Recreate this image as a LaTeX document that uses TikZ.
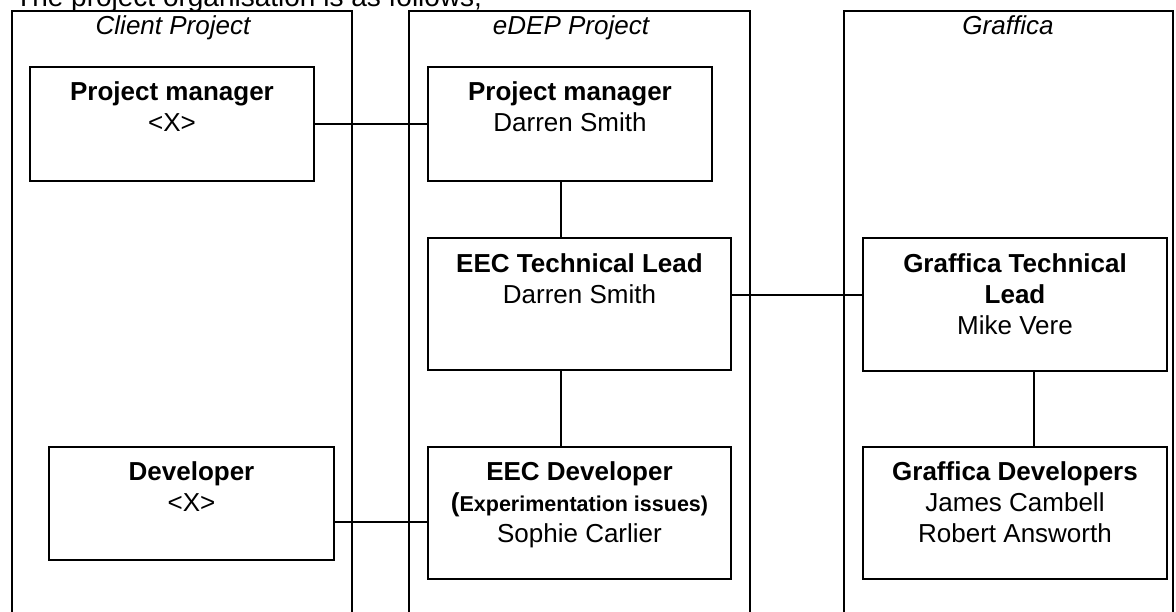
\documentclass[tikz,border=0pt]{standalone}
\usepackage{fontspec}
\setmainfont{Liberation Sans}[Ligatures=CommonOff]
\usetikzlibrary{calc}
\tikzset{
  colbox/.style={draw, line width=1.6pt, fill=white, inner sep=0pt, minimum height=639pt},
  orgbox/.style={draw, line width=1.5pt, fill=white, inner sep=0pt},
  txt/.style={inner sep=0pt, anchor=base, font=\fontsize{26}{31}\selectfont},
  hdr/.style={inner sep=0pt, anchor=base, font=\fontsize{26}{31}\selectfont\itshape},
  conn/.style={line width=1.3pt}
}
\newcommand{\lines}[1]{\begin{tabular}[t]{@{}c@{}}#1\end{tabular}}
\begin{document}
\begin{tikzpicture}[x=1pt,y=-1pt]
\useasboundingbox (0,0) rectangle (1176,612);
\clip (0,0) rectangle (1176,612);
\node[inner sep=0pt, anchor=base west, font=\fontsize{28}{33}\selectfont] (intro) at (15,6.5) {The project organisation is as follows;};
% columns
\node[colbox, minimum width=340pt] (colC) at (182,330.5) {};
\node[colbox, minimum width=341pt] (colE) at (579.5,330.5) {};
\node[colbox, minimum width=329pt] (colG) at (1008.5,330.5) {};
\node[hdr] (hC) at (173,35) {Client Project};
\node[hdr] (hE) at (571,35) {eDEP Project};
\node[hdr] (hG) at (1008,35) {Graffica};
% boxes
\node[orgbox, minimum width=284pt, minimum height=114pt] (pmC) at (172,124) {};
\node[orgbox, minimum width=284pt, minimum height=114pt] (pmE) at (570,124) {};
\node[orgbox, minimum width=303pt, minimum height=132pt] (tlE) at (579.5,304) {};
\node[orgbox, minimum width=304pt, minimum height=133pt] (tlG) at (1015,304.5) {};
\node[orgbox, minimum width=285pt, minimum height=113pt] (devC) at (191.5,503.5) {};
\node[orgbox, minimum width=303pt, minimum height=132pt] (devE) at (579.5,513) {};
\node[orgbox, minimum width=304pt, minimum height=132pt] (devG) at (1015,513) {};
% texts
\node[txt] (pmCt) at ($(pmC.north)+(0,34)$) {\lines{\bfseries Project manager\\<X>}};
\node[txt] (pmEt) at ($(pmE.north)+(0,34)$) {\lines{\bfseries Project manager\\Darren Smith}};
\node[txt] (tlEt) at ($(tlE.north)+(0,35)$) {\lines{\bfseries EEC Technical Lead\\Darren Smith}};
\node[txt] (tlGt) at ($(tlG.north)+(0,35)$) {\lines{\bfseries Graffica Technical\\\bfseries Lead\\Mike Vere}};
\node[txt] (devCt) at ($(devC.north)+(0,34)$) {\lines{\bfseries Developer\\<X>}};
\node[txt] (devEt) at ($(devE.north)+(0,34)$) {\lines{\bfseries EEC Developer\\{\bfseries (}{\fontsize{21.5}{31}\selectfont\bfseries Experimentation issues)}\\Sophie Carlier}};
\node[txt] (devGt) at ($(devG.north)+(0,34)$) {\lines{\bfseries Graffica Developers\\James Cambell\\Robert Answorth}};
% connectors
\coordinate (vxE) at (561,0);
\coordinate (vxG) at (1034,0);
\coordinate (hyT) at (0,295);
\coordinate (hyD) at (0,522);
\draw[conn] (pmC.east) -- (pmE.west);
\draw[conn] (vxE |- pmE.south) -- (vxE |- tlE.north);
\draw[conn] (vxE |- tlE.south) -- (vxE |- devE.north);
\draw[conn] (tlE.east |- hyT) -- (tlG.west |- hyT);
\draw[conn] (vxG |- tlG.south) -- (vxG |- devG.north);
\draw[conn] (devC.east |- hyD) -- (devE.west |- hyD);
\end{tikzpicture}
\end{document}
